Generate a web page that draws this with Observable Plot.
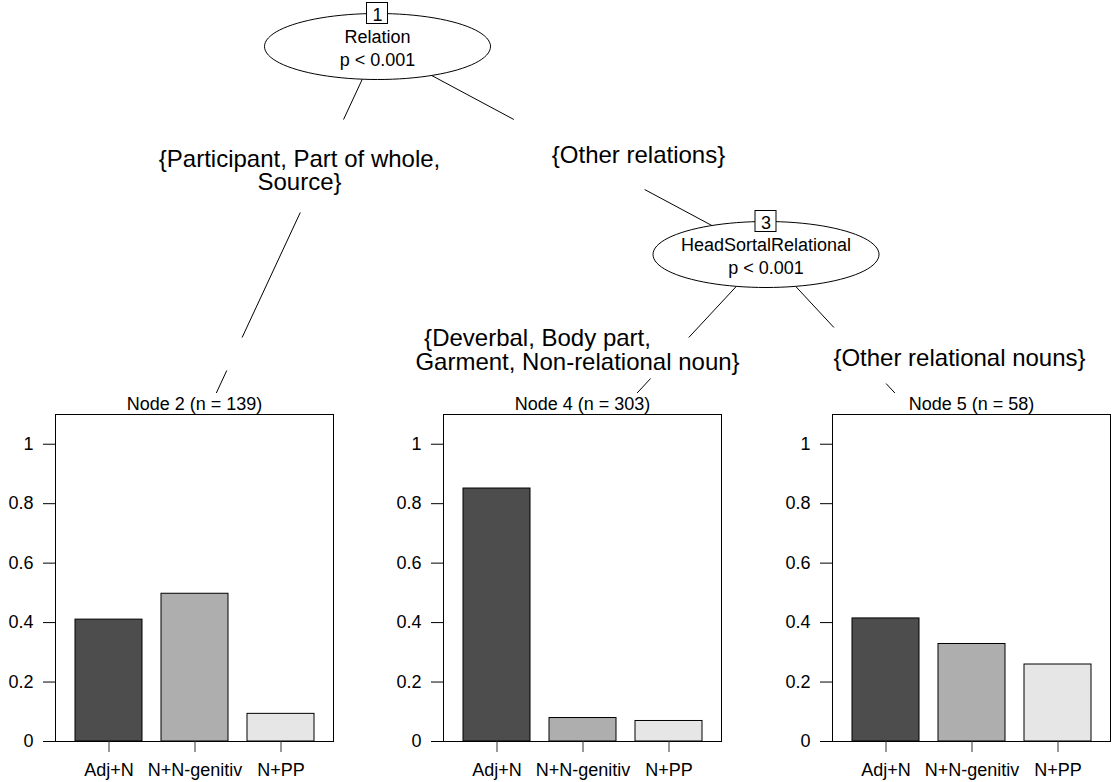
<!DOCTYPE html>
<html>
<head>
<meta charset="utf-8">
<script src="https://cdn.jsdelivr.net/npm/d3@7"></script>
<script src="https://cdn.jsdelivr.net/npm/@observablehq/plot@0.6"></script>
<style>
  html, body { margin: 0; padding: 0; background: #fff; }
  #root { position: relative; width: 1113px; height: 782px; overflow: hidden; background: #fff;
          font-family: "Liberation Sans", Arial, Helvetica, sans-serif; }
  #root > .layer { position: absolute; }
</style>
</head>
<body>
<div id="root"></div>
<script>
// ---------------- DATA ----------------
const categories = ["Adj+N", "N+N-genitiv", "N+PP"];
const terminalIds = [2, 4, 5];
const terminalN = [139, 303, 58];
const propAdjN   = [0.410, 0.851, 0.414];
const propNNgen  = [0.497, 0.079, 0.328];
const propNPP    = [0.093, 0.069, 0.259];
const innerIds = [1, 3];
const innerVars = ["Relation", "HeadSortalRelational"];
const innerP = ["p < 0.001", "p < 0.001"];
const edgeFrom = [1, 1, 3, 3];
const edgeTo = [2, 3, 4, 5];
const edgeLabels = [
  ["{Participant, Part of whole,", "Source}"],
  ["{Other relations}"],
  ["{Deverbal, Body part,", "Garment, Non-relational noun}"],
  ["{Other relational nouns}"]
];
const yTicks = [0, 0.2, 0.4, 0.6, 0.8, 1];
const yTickLabels = ["0", "0.2", "0.4", "0.6", "0.8", "1"];
const barFills = ["#4D4D4D", "#AEAEAE", "#E6E6E6"];

// ---------------- LAYOUT ----------------
const W = 1113, H = 782;
const FONT = "Liberation Sans, Arial, Helvetica, sans-serif";
const panelLeft = [0, 388, 777];
const panelTop = 393, panelW = 336, panelH = H - 393;
const mL = 55, mR = 3, mT = 21, mB = 41;
const anchorOffset = -11;        // terminal viewport centre relative to box centre
const terminalAnchorY = 463;
const innerY = {1: 46, 3: 254};
const ellRx = 113, ellRy = 33;
const boxHalf = 10.5;
// visible-gap intervals (y) of each edge, hidden behind its label
const edgeGaps = [[[119, 212], [337, 370]], [[119, 189]], [[337, 378]], [[327, 383]]];
// label line placement: [x centre, baseline] per line
const edgeLabelPos = [
  [[299, 166.5], [299, 189]],
  [[638, 162]],
  [[537, 345], [577, 369]],
  [[959, 365]]
];

// ---------------- TREE GEOMETRY ----------------
const pos = {};
terminalIds.forEach((id, i) => {
  const boxCenter = panelLeft[i] + mL + (panelW - mL - mR) / 2;
  pos[id] = {x: boxCenter + anchorOffset, y: terminalAnchorY};
});
const children = {};
edgeFrom.forEach((f, i) => { (children[f] = children[f] || []).push(edgeTo[i]); });
function terminalsOf(id) {
  if (!children[id]) return [id];
  return children[id].flatMap(terminalsOf);
}
function placeInner(id) {
  if (!children[id]) return;
  children[id].forEach(placeInner);
  const [l, r] = children[id];
  const lt = terminalsOf(l), rt = terminalsOf(r);
  pos[id] = {x: (pos[lt[lt.length - 1]].x + pos[rt[0]].x) / 2, y: innerY[id]};
}
placeInner(1);

const segments = [];
edgeFrom.forEach((f, i) => {
  const a = pos[f], b = pos[edgeTo[i]];
  const xAt = y => a.x + (b.x - a.x) * (y - a.y) / (b.y - a.y);
  let ys = [a.y];
  edgeGaps[i].forEach(([g1, g2]) => { ys.push(g1, g2); });
  ys.push(b.y);
  for (let k = 0; k < ys.length; k += 2) {
    segments.push({x1: xAt(ys[k]), y1: ys[k], x2: xAt(ys[k + 1]), y2: ys[k + 1]});
  }
});

const ellipsePts = [];
innerIds.forEach(id => {
  const c = pos[id];
  for (let k = 0; k < 96; k++) {
    const t = 2 * Math.PI * k / 96;
    ellipsePts.push({id, x: c.x + ellRx * Math.cos(t), y: c.y + ellRy * Math.sin(t)});
  }
});

const numBoxes = innerIds.map(id => ({
  id, x1: pos[id].x - boxHalf, x2: pos[id].x + boxHalf,
  y1: pos[id].y - ellRy - boxHalf, y2: pos[id].y - ellRy + boxHalf,
  tx: pos[id].x, ty: pos[id].y - ellRy + 7.5
}));

const nodeTexts = [];
innerIds.forEach((id, i) => {
  nodeTexts.push({x: pos[id].x, y: pos[id].y - 4, text: innerVars[i]});
  nodeTexts.push({x: pos[id].x, y: pos[id].y + 19, text: innerP[i]});
});

const edgeTexts = [];
edgeLabels.forEach((lines, i) => {
  lines.forEach((t, j) => {
    edgeTexts.push({x: edgeLabelPos[i][j][0], y: edgeLabelPos[i][j][1], text: t});
  });
});

const root = document.getElementById("root");

const tree = Plot.plot({
  width: W, height: H, margin: 0,
  style: {background: "white", fontFamily: FONT, color: "black"},
  x: {domain: [0, W], range: [0, W], axis: null},
  y: {domain: [0, H], range: [0, H], axis: null},
  marks: [
    Plot.link(segments, {x1: "x1", y1: "y1", x2: "x2", y2: "y2", stroke: "black", strokeWidth: 1}),
    Plot.line(ellipsePts, {x: "x", y: "y", z: "id", fill: "white", stroke: "black", strokeWidth: 1, curve: "linear-closed"}),
    Plot.rect(numBoxes, {x1: "x1", x2: "x2", y1: "y1", y2: "y2", fill: "white", stroke: "black", strokeWidth: 1}),
    Plot.text(numBoxes, {x: "tx", y: "ty", text: d => String(d.id), fontSize: 18, lineAnchor: "bottom", fill: "black"}),
    Plot.text(nodeTexts, {x: "x", y: "y", text: "text", fontSize: 18, lineAnchor: "bottom", fill: "black"}),
    Plot.text(edgeTexts, {x: "x", y: "y", text: "text", fontSize: 24, lineAnchor: "bottom", fill: "black"})
  ]
});
tree.classList.add("layer");
tree.style.left = "0px"; tree.style.top = "0px";
root.appendChild(tree);

// ---------------- TERMINAL PANELS ----------------
const series = [propAdjN, propNNgen, propNPP];
terminalIds.forEach((id, i) => {
  const data = categories.map((c, j) => ({cat: c, value: series[j][i]}));
  const title = `Node ${id} (n = ${terminalN[i]})`;
  const p = Plot.plot({
    width: panelW, height: panelH,
    marginLeft: mL, marginRight: mR, marginTop: mT, marginBottom: mB,
    style: {background: "white", fontFamily: FONT, fontSize: "18px", color: "black", overflow: "visible"},
    x: {domain: categories, padding: 0.225, label: null, axis: null},
    y: {domain: [0, 1.1], label: null, axis: null},
    color: {domain: categories, range: barFills},
    marks: [
      Plot.barY(data, {x: "cat", y: "value", fill: "cat", stroke: "black", strokeWidth: 1}),
      Plot.frame({stroke: "black", strokeWidth: 1}),
      Plot.axisY(yTicks, {tickSize: 12, tickPadding: 10, tickFormat: (d, k) => yTickLabels[k], fontSize: 18, label: null, stroke: "black"}),
      Plot.axisX({tickSize: 11, tickPadding: 11, fontSize: 18, label: null, stroke: "#333"}),
      Plot.text([title], {frameAnchor: "top", dy: -5, lineAnchor: "bottom", fontSize: 18, fill: "black"})
    ]
  });
  p.classList.add("layer");
  p.style.left = panelLeft[i] + "px";
  p.style.top = panelTop + "px";
  root.appendChild(p);
});
</script>
</body>
</html>
